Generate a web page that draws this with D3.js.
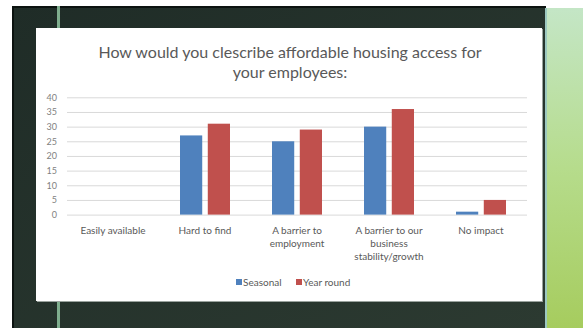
<!DOCTYPE html>
<html>
<head>
<meta charset="utf-8">
<script src="https://cdn.jsdelivr.net/npm/d3@7/dist/d3.min.js"></script>
<style>
  html, body { margin: 0; padding: 0; background: #ffffff; }
  svg { display: block; }
  text { font-family: Lato, "Open Sans", sans-serif; }
</style>
</head>
<body>
<svg id="chart" width="585" height="328"></svg>
<script>
// Survey answers and counts per employee type
const categories = [
  "Easily available",
  "Hard to find",
  "A barrier to employment",
  "A barrier to our business stability/growth",
  "No impact"
];
const categoryLines = [
  ["Easily available"],
  ["Hard to find"],
  ["A barrier to", "employment"],
  ["A barrier to our", "business", "stability/growth"],
  ["No impact"]
];
const seriesNames = ["Seasonal", "Year round"];
const seasonal = [0, 27, 25, 30, 1];
const yearRound = [0, 31, 29, 36, 5];
const yTicks = [0, 5, 10, 15, 20, 25, 30, 35, 40];
const titleLines = ["How would you clescribe affordable housing access for", "your employees:"];

const colors = { "Seasonal": "#4f81bd", "Year round": "#c0504d" };
const values = { "Seasonal": seasonal, "Year round": yearRound };

const svg = d3.select("#chart");

// Slide backdrop: dark frame, green strip on the right
const defs = svg.append("defs");
const g1 = defs.append("linearGradient").attr("id", "green").attr("x1", 0).attr("y1", 0).attr("x2", 0).attr("y2", 1);
g1.append("stop").attr("offset", 0).attr("stop-color", "#c4e6c6");
g1.append("stop").attr("offset", 0.5).attr("stop-color", "#b6dc8c");
g1.append("stop").attr("offset", 1).attr("stop-color", "#a6cc5e");
const g2 = defs.append("linearGradient").attr("id", "dark").attr("x1", 0).attr("y1", 0).attr("x2", 1).attr("y2", 1);
g2.append("stop").attr("offset", 0).attr("stop-color", "#1f2c27");
g2.append("stop").attr("offset", 1).attr("stop-color", "#2c3a31");

svg.append("rect").attr("x", 545).attr("y", 8).attr("width", 38).attr("height", 320).attr("fill", "url(#green)");
svg.append("rect").attr("x", 545).attr("y", 8).attr("width", 2).attr("height", 320).attr("fill", "#9cc8c0");
svg.append("rect").attr("x", 12).attr("y", 6).attr("width", 533).attr("height", 322).attr("fill", "url(#dark)");
svg.append("rect").attr("x", 12).attr("y", 6).attr("width", 534).attr("height", 2).attr("fill", "#0c1310");
svg.append("rect").attr("x", 12).attr("y", 6).attr("width", 2).attr("height", 322).attr("fill", "#0c1310");
svg.append("rect").attr("x", 57).attr("y", 6).attr("width", 3).attr("height", 322).attr("fill", "#7fae8e");

// White chart panel
svg.append("rect").attr("x", 37).attr("y", 29).attr("width", 506).attr("height", 273).attr("fill", "#9aa39e");
svg.append("rect").attr("x", 36).attr("y", 28).attr("width", 506).attr("height", 273).attr("fill", "#ffffff");

// Title
svg.append("text")
  .attr("x", 290).attr("y", 58)
  .attr("text-anchor", "middle")
  .attr("font-size", 16)
  .attr("fill", "#595959")
  .selectAll("tspan")
  .data(titleLines)
  .join("tspan")
  .attr("x", 290)
  .attr("dy", (d, i) => i === 0 ? 0 : 19.5)
  .text(d => d);

// Scales
const plot = { left: 67, right: 527, top: 97.3, bottom: 214.6 };
const x = d3.scaleBand().domain(categories).range([plot.left, plot.right]);
const y = d3.scaleLinear().domain([0, 40]).range([plot.bottom, plot.top]);
const xs = d3.scaleBand().domain(seriesNames).range([21, 71]).paddingInner(0.2);

// Gridlines and y tick labels
const yAxis = d3.axisLeft(y)
  .tickValues(yTicks)
  .tickSize(-(plot.right - plot.left))
  .tickPadding(10);
const ya = svg.append("g").attr("transform", `translate(${plot.left},0)`).call(yAxis);
ya.select(".domain").remove();
ya.selectAll(".tick line").attr("stroke", "#d9d9d9").attr("stroke-width", 1);
ya.selectAll(".tick text").attr("fill", "#7f7f7f").attr("font-size", 9)
  .style("font-family", "Lato, 'Open Sans', sans-serif");

// Bars
const groups = svg.append("g").selectAll("g")
  .data(categories)
  .join("g")
  .attr("transform", d => `translate(${x(d)},0)`);

groups.selectAll("rect")
  .data((d, i) => seriesNames.map(s => ({ s, v: values[s][i] })))
  .join("rect")
  .attr("x", d => xs(d.s))
  .attr("width", xs.bandwidth())
  .attr("y", d => y(d.v))
  .attr("height", d => y(0) - y(d.v))
  .attr("fill", d => colors[d.s]);

// Category labels
const xl = svg.append("g");
categories.forEach((c, i) => {
  xl.append("text")
    .attr("x", x(c) + x.bandwidth() / 2)
    .attr("y", 233.5)
    .attr("text-anchor", "middle")
    .attr("font-size", 10)
    .attr("fill", "#595959")
    .selectAll("tspan")
    .data(categoryLines[i])
    .join("tspan")
    .attr("x", x(c) + x.bandwidth() / 2)
    .attr("dy", (d, j) => j === 0 ? 0 : 13.3)
    .text(d => d);
});

// Legend
const legendX = [236, 296];
const legend = svg.append("g");
seriesNames.forEach((s, i) => {
  legend.append("rect").attr("x", legendX[i]).attr("y", 279).attr("width", 6).attr("height", 6).attr("fill", colors[s]);
  legend.append("text").attr("x", legendX[i] + 7).attr("y", 285.5)
    .attr("font-size", 10).attr("fill", "#595959").text(s);
});
</script>
</body>
</html>
